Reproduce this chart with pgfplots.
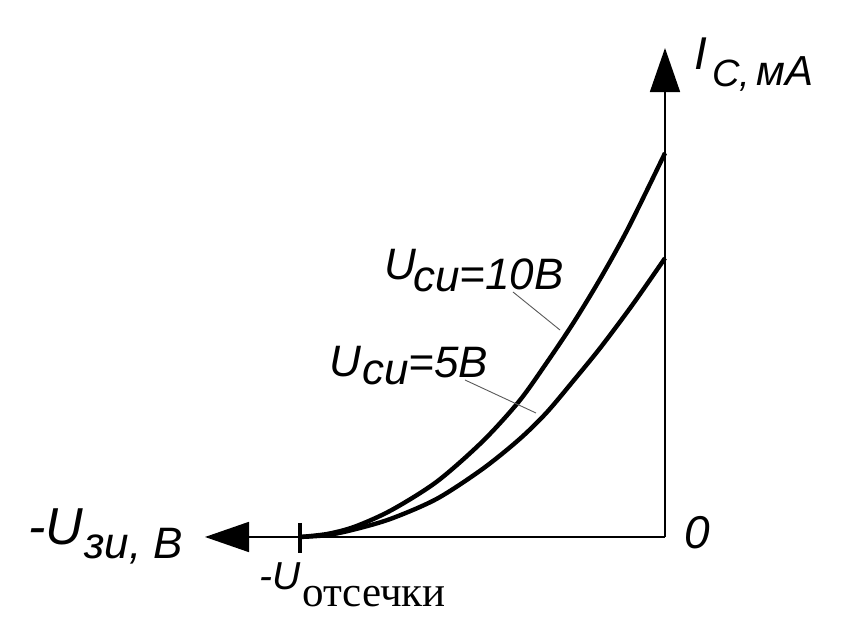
\documentclass[border=0pt]{standalone}
\usepackage{fontspec}
\setmainfont{Liberation Serif}
\setsansfont{Liberation Sans}
\usepackage{pgfplots}
\pgfplotsset{compat=1.18}
\usetikzlibrary{arrows.meta}

% italic sans label at a given size (pt)
\newcommand{\lab}[1]{\fontsize{#1pt}{#1pt}\selectfont\sffamily\itshape}

\begin{document}
\begin{tikzpicture}
\begin{axis}[
    x=45.625pt, y=19.1pt,
    x dir=reverse,
    xmin=0, xmax=5.041, ymin=0, ymax=12.80,
    axis lines=middle,
    axis line style={line width=0.9pt, -{Triangle[length=22pt,width=15pt]}},
    xtick=\empty, ytick=\empty,
    clip=false,
]
% U_ci = 10 V
\addplot[line width=2.2pt, smooth] coordinates {
    (0,10.05) (0.4,8.10) (0.7,6.80) (1.0,5.62) (1.3,4.55) (1.6,3.55)
    (2.0,2.50) (2.5,1.45) (3.0,0.70) (3.4,0.27) (3.7,0.08) (4.0,0)
};
% U_ci = 5 V
\addplot[line width=2.2pt, smooth] coordinates {
    (0,7.30) (0.35,6.10) (0.7,4.98) (1.0,4.10) (1.3,3.25) (1.6,2.55)
    (2.0,1.78) (2.5,1.00) (3.0,0.48) (3.4,0.20) (3.7,0.05) (4.0,0)
};
\coordinate (tl) at (axis cs:7.2877,14.0576);
\coordinate (br) at (axis cs:-2.0055,-2.7487);
\end{axis}
\pgfresetboundingbox
\path[use as bounding box] (tl) rectangle (br);

% annotations, in pixels of the reference
\begin{scope}[shift={(tl)}, x=0.5pt, y=-0.5pt, every node/.style={anchor=base west, inner sep=0pt}]
\draw[line width=2pt] (300,523) -- (300,553);
\draw[gray!70!black, line width=0.45pt] (513,292) -- (560,330);
\draw[gray!70!black, line width=0.45pt] (465,380) -- (536,413);
\node at (28,545) {\lab{26}-U};
\node at (84,559) {\lab{22}зи, В};
\node at (694,70) {\lab{23}I};
\node at (712,87) {\lab{19}С,};
\node at (756,86) {\lab{21}мА};
\node at (684,549) {\lab{23}0};
\node at (384,280) {\lab{22}U};
\node at (413,292) {\lab{22}си};
\node at (459,290) {\lab{22}=10В};
\node at (329,377) {\lab{22}U};
\node at (362,385) {\lab{22}си};
\node at (408,378) {\lab{22}=5В};
\node at (259,590) {\lab{19.5}-U};
\node at (302,607) {\fontsize{21.5pt}{21.5pt}\selectfont отсечки};
\end{scope}
\end{tikzpicture}
\end{document}
